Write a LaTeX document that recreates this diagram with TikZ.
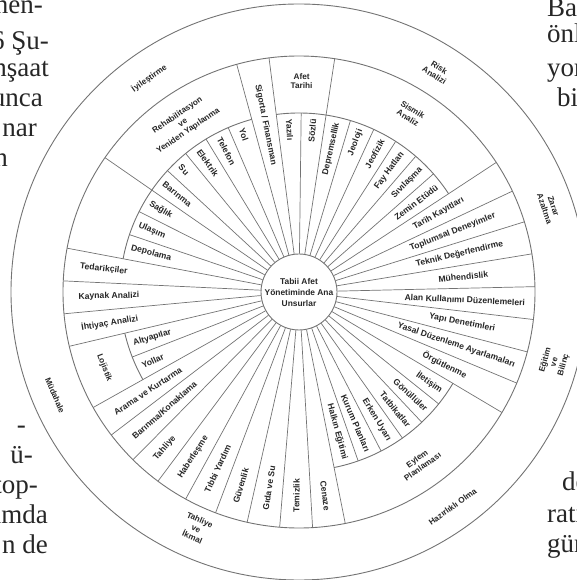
\documentclass[tikz,border=0pt]{standalone}
\usepackage{fontspec}
\setmainfont{Liberation Serif}
\newfontfamily\labfont{Liberation Sans}
\tikzset{
  ring/.style={draw=black!55, line width=0.9pt},
  spoke/.style={draw=black!55, line width=0.7pt},
  lbl/.style={font=\labfont\bfseries\fontsize{8.6}{9}\selectfont, text=black!85, inner sep=0.4pt},
  cat/.style={font=\labfont\bfseries\fontsize{8.2}{9.4}\selectfont, text=black!85, inner sep=0.4pt, align=center},
  frag/.style={font=\fontsize{27}{30}\selectfont, text=black!85, inner sep=0pt},
}
\newcommand\spkE[4]{%
  \pgfmathsetmacro\mycos{cos(#2)}%
  \ifdim\mycos pt<0pt
    \node[lbl,rotate=#2-180,anchor=west] (#1) at (#2:#3pt) {#4};%
  \else
    \node[lbl,rotate=#2,anchor=east] (#1) at (#2:#3pt) {#4};%
  \fi}
\newcommand\spkC[4]{%
  \pgfmathsetmacro\mycos{cos(#2)}%
  \ifdim\mycos pt<0pt
    \node[lbl,rotate=#2-180] (#1) at (#2:#3pt) {#4};%
  \else
    \node[lbl,rotate=#2] (#1) at (#2:#3pt) {#4};%
  \fi}
\newcommand\tang[4]{%
  \pgfmathsetmacro\mysin{sin(#2)}%
  \ifdim\mysin pt<0pt
    \node[cat,rotate=#2+90] (#1) at (#2:#3pt) {#4};%
  \else
    \node[cat,rotate=#2-90] (#1) at (#2:#3pt) {#4};%
  \fi}
\begin{document}
\begin{tikzpicture}[x=1pt,y=1pt]
\useasboundingbox (-299,-288) rectangle (278,292);
\clip (-299,-288) rectangle (278,292);

% rings
\draw[ring] (0,0) circle[radius=288pt];
\draw[ring] (0,0) circle[radius=236pt];
\draw[ring] (33.3:179pt) arc[start angle=33.3, end angle=97.3, radius=179pt];
\draw[ring] (105.3:179pt) arc[start angle=105.3, end angle=169.3, radius=179pt];
\draw[ring] (193.3:179pt) arc[start angle=193.3, end angle=209.3, radius=179pt];
\draw[ring] (281.3:179pt) arc[start angle=281.3, end angle=329.3, radius=179pt];

% centre
\node[circle, draw=black!55, line width=0.9pt, minimum size=76pt, inner sep=0pt, align=center,
      font=\labfont\bfseries\fontsize{8.4}{11}\selectfont, text=black!85] (c) at (0,0)
      {Tabii Afet\\Yönetiminde Ana\\Unsurlar};

% spokes
\foreach \a/\r in {1.3/236, 9.3/236, 17.3/236, 25.3/236, 33.3/236, 41.3/179, 49.3/179,
  57.3/179, 65.3/179, 73.3/179, 81.3/236, 89.3/179, 97.3/236, 105.3/236, 113.3/179,
  121.3/179, 129.3/179, 137.3/179, 145.3/236, 153.3/179, 161.3/179, 169.3/236,
  177.3/236, 185.3/236, 193.3/236, 201.3/179, 209.3/236, 217.3/236, 225.3/236,
  233.3/236, 241.3/236, 249.3/236, 257.3/236, 265.3/236, 273.3/236, 281.3/236,
  289.3/179, 297.3/179, 305.3/179, 313.3/179, 321.3/179, 329.3/236, 337.3/236,
  345.3/236, 353.3/236}
  {\draw[spoke] (c) -- (\a:\r pt);}

% spoke labels
\spkC{s0}{5.3}{165}{Mühendislik}
\spkC{s1}{13.3}{165}{Teknik Değerlendirme}
\spkC{s2}{21.3}{165}{Toplumsal Deneyimler}
\spkC{s3}{29.3}{160}{Tarih Kayıtları}
\spkE{s4}{37.3}{174}{Zemin Etüdü}
\spkE{s5}{45.3}{174}{Sıvılaşma}
\spkE{s6}{53.3}{174}{Fay Hatları}
\spkE{s7}{61.3}{174}{Jeofizik}
\spkE{s8}{69.3}{174}{Jeoloji}
\spkE{s9}{77.3}{174}{Depremsellik}
\spkE{s10}{85.3}{174}{Sözlü}
\spkE{s11}{93.3}{174}{Yazılı}
\spkE{s12}{101.3}{212}{Sigorta / Finansman}
\spkE{s13}{109.3}{174}{Yol}
\spkE{s14}{117.3}{174}{Telefon}
\spkE{s15}{125.3}{174}{Elektrik}
\spkE{s16}{133.3}{174}{Su}
\spkE{s17}{141.3}{174}{Barınma}
\spkE{s18}{149.3}{174}{Sağlık}
\spkE{s19}{157.3}{174}{Ulaşım}
\spkE{s20}{165.3}{174}{Depolama}
\spkE{s21}{173.3}{221}{Tedarikçiler}
\spkE{s22}{181.3}{221}{Kaynak Analizi}
\spkE{s23}{189.3}{221}{İhtiyaç Analizi}
\spkE{s24}{197.3}{174}{Altyapılar}
\spkE{s25}{205.3}{174}{Yollar}
\spkE{s26}{213.3}{221}{Arama ve Kurtarma}
\spkE{s27}{221.3}{221}{Barınma/Konaklama}
\spkE{s28}{229.3}{221}{Tahliye}
\spkE{s29}{237.3}{221}{Haberleşme}
\spkE{s30}{245.3}{221}{Tıbbi Yardım}
\spkE{s31}{253.3}{221}{Güvenlik}
\spkE{s32}{261.3}{221}{Gıda ve Su}
\spkE{s33}{269.3}{221}{Temizlik}
\spkE{s34}{277.3}{221}{Cenaze}
\spkE{s35}{285.3}{174}{Halkın Eğitimi}
\spkE{s36}{293.3}{174}{Kurum Planları}
\spkE{s37}{301.3}{174}{Erken Uyarı}
\spkE{s38}{309.3}{174}{Tatbikatlar}
\spkE{s39}{317.3}{174}{Gönüllüler}
\spkE{s40}{325.3}{174}{İletişim}
\spkC{s41}{333.3}{163}{Örgütlenme}
\spkC{s42}{341.3}{166}{Yasal Düzenleme Ayarlamaları}
\spkC{s43}{349.3}{166}{Yapı Denetimleri}
\spkC{s44}{357.3}{166}{Alan Kullanımı Düzenlemeleri}

% middle ring labels
\tang{m1}{58}{210}{Sismik\\Analiz}
\tang{m2}{89.3}{211}{Afet\\Tarihi}
\tang{m3}{124.5}{205}{Rehabilitasyon\\ve\\Yeniden Yapılanma}
\tang{m4}{201.3}{209}{Lojistik}
\tang{m5}{305.3}{209}{Eylem\\Planlaması}

% outer ring labels
\tang{o1}{125}{261}{İyileştirme}
\tang{o2}{58}{260}{Risk\\Analizi}
\tang{o3}{18.7}{264}{Zarar\\Azaltma}
\tang{o4}{344.6}{265}{Eğitim\\ve\\Bilinç}
\tang{o5}{305.6}{264}{Hazırlıklı Olma}
\tang{o6}{246.5}{258}{Tahliye\\ve\\İkmal}
\tang{o7}{203}{265}{Müdahale}

% surrounding page text
\node[frag, anchor=base east] (f1) at (-256,278) {nen-};
\node[frag, anchor=base east] (f2) at (-250,242) {6 Şu-};
\node[frag, anchor=base east] (f3) at (-250,215) {nşaat};
\node[frag, anchor=base east] (f4) at (-256,185) {unca};
\node[frag, anchor=base east] (f5) at (-262,155) {nar};
\node[frag, anchor=base east] (f6) at (-291,125) {n};
\node[frag, anchor=base west] (g1) at (248,275) {Baş};
\node[frag, anchor=base west] (g2) at (248,249) {önl};
\node[frag, anchor=base west] (g3) at (248,215) {yor};
\node[frag, anchor=base west] (g4) at (258,185) {bi};
\node[frag, anchor=base east] (h1) at (-273,-141) {-};
\node[frag, anchor=base east] (h2) at (-266,-171) {ü-};
\node[frag, anchor=base east] (h3) at (-261,-201) {top-};
\node[frag, anchor=base east] (h4) at (-251,-231) {umda};
\node[frag, anchor=base east] (h5) at (-251,-261) {n de};
\node[frag, anchor=base west] (k1) at (263,-198) {de};
\node[frag, anchor=base west] (k2) at (248,-230) {rati};
\node[frag, anchor=base west] (k3) at (248,-260) {gün};
\end{tikzpicture}
\end{document}
